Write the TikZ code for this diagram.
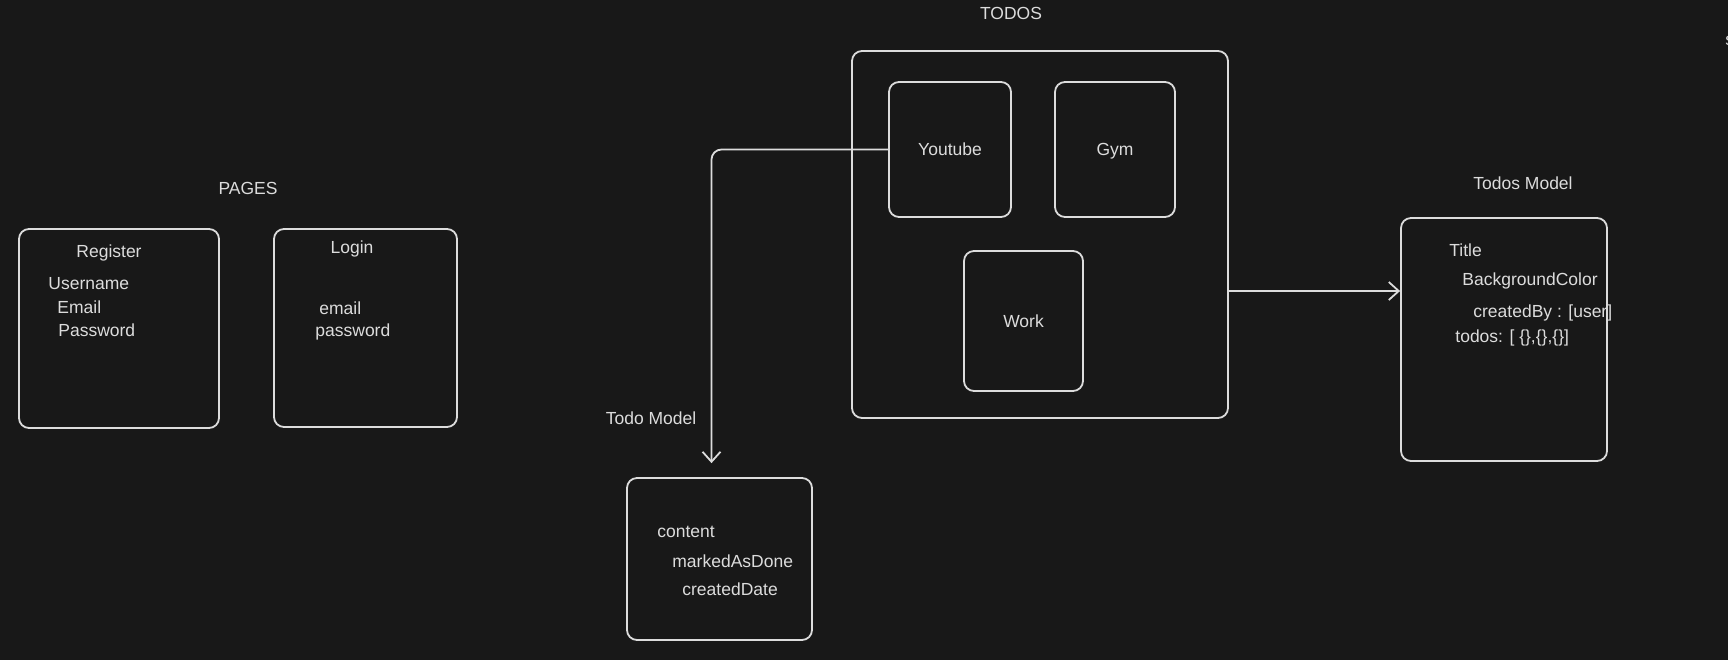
\documentclass[tikz,border=0pt]{standalone}
\usepackage{fontspec}
\setmainfont{Liberation Sans}
\usetikzlibrary{arrows.meta}
\definecolor{bg}{HTML}{181818}
\definecolor{ink}{HTML}{DCDCDC}
\begin{document}
\begin{tikzpicture}[x=0.5pt,y=-0.5pt,
		box/.style={draw=ink,line width=0.9pt,rounded corners=5pt,inner sep=0pt},
		txt/.style={text=ink,font=\fontsize{8.75}{10}\selectfont,inner sep=0pt,text height=6.3pt,text depth=0pt},
		conn/.style={draw=ink,line width=0.9pt,-{Straight Barb[length=5pt,width=9pt]}}]
	\fill[bg] (0,0) rectangle (1728,660);
	\useasboundingbox (0,0) rectangle (1728,660);
	% pages
	\node[txt] (pages) at (248,188) {PAGES};
	\node[box,minimum width=100pt,minimum height=99.5pt] (reg) at (119,328.5) {};
	\node[txt] (regt) at (109,251) {Register};
	\node[txt,anchor=west] (user) at (48,283) {Username};
	\node[txt,anchor=west] (mail) at (57,307) {Email};
	\node[txt,anchor=west] (pass) at (58,330) {Password};
	\node[box,minimum width=91.5pt,minimum height=99pt] (login) at (365.5,328) {};
	\node[txt] (logint) at (352,247) {Login};
	\node[txt,anchor=west] (lmail) at (319,308) {email};
	\node[txt,anchor=west] (lpass) at (315,330) {password};
	% todos
	\node[txt] (todost) at (1011,13) {TODOS};
	\node[box,minimum width=188pt,minimum height=183.5pt] (todos) at (1040,234.5) {};
	\node[box,txt,minimum width=61pt,minimum height=67.5pt] (youtube) at (950,149.5) {Youtube};
	\node[box,txt,minimum width=60pt,minimum height=67.5pt] (gym) at (1115,149.5) {Gym};
	\node[box,txt,minimum width=59.5pt,minimum height=70pt] (work) at (1023.5,321) {Work};
	% todo model
	\node[txt] (todomt) at (651,418) {Todo Model};
	\node[box,minimum width=92.5pt,minimum height=81pt] (todom) at (719.5,559) {};
	\node[txt,anchor=west] (content) at (657,531) {content};
	\node[txt,anchor=west] (done) at (672,561) {markedAsDone};
	\node[txt,anchor=west] (cdate) at (682,589) {createdDate};
	% todos model
	\node[txt] (tmodelt) at (1523,183) {Todos Model};
	\node[box,minimum width=103pt,minimum height=121.5pt] (tmodel) at (1504,339.5) {};
	\node[txt,anchor=west] (title) at (1449,250) {Title};
	\node[txt,anchor=west] (bgcol) at (1462,279) {BackgroundColor};
	\node[txt,anchor=west] (cby) at (1473,311) {createdBy : [user]};
	\node[txt,anchor=west] (tlist) at (1455,336) {todos: [ \{\},\{\},\{\}]};
	\node[txt,anchor=west] (edge) at (1725,39) {s};
	% connectors
	\draw[conn,rounded corners=5pt,shorten >=7pt] (youtube.west) -| ([xshift=-4pt]todom.north);
	\draw[conn] ([yshift=-28.25pt]todos.east) -- ([yshift=-28.25pt]todos.east -| tmodel.west);
\end{tikzpicture}
\end{document}
